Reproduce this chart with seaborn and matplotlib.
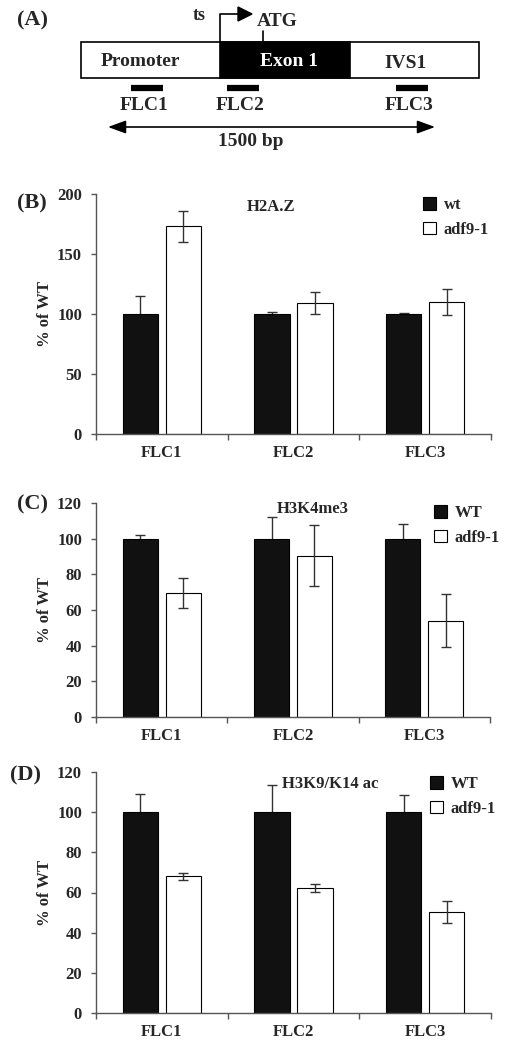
"""FLC chromatin ChIP figure: gene schematic plus three bar panels."""

import matplotlib
matplotlib.use("Agg")
import matplotlib.pyplot as plt
from matplotlib.patches import Rectangle, Polygon, Patch
import numpy as np
import pandas as pd
import seaborn as sns

REGIONS = ["FLC1", "FLC2", "FLC3"]

h2az_wt = [100, 100, 100]
h2az_wt_err = [15, 2, 1]
h2az_adf = [173, 109, 110]
h2az_adf_err = [13, 9, 10.5]

h3k4_wt = [100, 100, 100]
h3k4_wt_err = [2, 12, 8.5]
h3k4_adf = [69.5, 90.5, 54]
h3k4_adf_err = [8.5, 17, 15]

ac_wt = [100, 100, 100]
ac_wt_err = [9, 13.5, 8.5]
ac_adf = [68, 62.4, 50.3]
ac_adf_err = [1.8, 2, 5.3]

sns.set_style("ticks")
plt.rcParams["font.family"] = ["Liberation Serif", "DejaVu Serif"]
plt.rcParams["font.weight"] = "bold"

W, H = 507, 1050
fig = plt.figure(figsize=(W / 100, H / 100), dpi=100)

GRAY = "#555555"
FS = 12


def fig_rect(left, top, right, bottom):
    """Pixel box -> figure-fraction rect."""
    return [left / W, 1 - bottom / H, (right - left) / W, (bottom - top) / H]


def bar_panel(rect, wt, wt_err, adf, adf_err, labels, ymax, step, title, title_xy, leg_xy):
    ax = fig.add_axes(rect)
    df = pd.DataFrame({
        "region": REGIONS * 2,
        "value": wt + adf,
        "err": wt_err + adf_err,
        "genotype": [labels[0]] * 3 + [labels[1]] * 3,
    })
    sns.barplot(data=df, x="region", y="value", hue="genotype",
                palette={labels[0]: "#111111", labels[1]: "white"},
                edgecolor="black", linewidth=0.8, width=0.653, gap=0.185,
                errorbar=None, legend=False, ax=ax)
    for i, (cont, lab) in enumerate(zip(ax.containers, labels)):
        errs = df.loc[df["genotype"] == lab, "err"].to_numpy()
        vals = df.loc[df["genotype"] == lab, "value"].to_numpy()
        xs = [b.get_x() + b.get_width() / 2 for b in cont]
        # wt error bars sit behind the black bars, so only the upper half shows
        ax.errorbar(xs, vals, yerr=errs, fmt="none", ecolor="#333333",
                    elinewidth=1.0, capsize=3.6, capthick=1.0,
                    zorder=0.5 if i == 0 else 3)

    ax.set_xlim(-0.5, 2.5)
    ax.set_ylim(0, ymax)
    ax.set_yticks(np.arange(0, ymax + 1, step))
    ax.set_xticks(range(3))
    ax.set_xticklabels(REGIONS)
    ax.set_xticks([-0.5, 0.5, 1.5, 2.5], minor=True)
    ax.tick_params(axis="x", which="major", length=0, pad=8, labelsize=FS)
    ax.tick_params(axis="x", which="minor", length=4, width=1, color=GRAY)
    ax.tick_params(axis="y", length=3.5, width=1, color=GRAY, pad=6.5, labelsize=FS)
    ax.set_xlabel("")
    ax.set_ylabel("% of WT", fontsize=FS, fontweight="bold")
    ax.yaxis.set_label_coords(-0.11, 0.5)
    sns.despine(ax=ax)
    for s in ("left", "bottom"):
        ax.spines[s].set_color(GRAY)
        ax.spines[s].set_linewidth(1.0)

    ax.text(title_xy[0], title_xy[1], title, transform=ax.transAxes,
            ha="center", va="center", fontsize=FS, fontweight="bold")

    handles = [Patch(facecolor="#111111", edgecolor="black", linewidth=0.8),
               Patch(facecolor="white", edgecolor="black", linewidth=0.8)]
    ax.legend(handles, labels, loc="upper left",
              bbox_to_anchor=(leg_xy[0] / W, 1 - leg_xy[1] / H),
              bbox_transform=fig.transFigure, frameon=False,
              borderpad=0, borderaxespad=0, handlelength=0.8, handleheight=0.8,
              handletextpad=0.45, labelspacing=0.5,
              prop={"size": FS, "weight": "bold"})
    return ax


bar_panel(fig_rect(96, 194, 491, 434), h2az_wt, h2az_wt_err, h2az_adf, h2az_adf_err,
          ["wt", "adf9-1"], 200, 50, "H2A.Z", (0.443, 0.946), (423, 197))
bar_panel(fig_rect(96, 503, 490, 717), h3k4_wt, h3k4_wt_err, h3k4_adf, h3k4_adf_err,
          ["WT", "adf9-1"], 120, 20, "H3K4me3", (0.551, 0.972), (434, 505))
bar_panel(fig_rect(96, 772, 491, 1013), ac_wt, ac_wt_err, ac_adf, ac_adf_err,
          ["WT", "adf9-1"], 120, 20, "H3K9/K14 ac", (0.592, 0.950), (430, 776))

# panel A: gene schematic, drawn in pixel space
ov = fig.add_axes([0, 0, 1, 1], zorder=-1)
ov.set_xlim(0, W)
ov.set_ylim(H, 0)
ov.axis("off")

ov.add_patch(Rectangle((81, 42), 398, 36, facecolor="white", edgecolor="black", lw=1.2))
ov.add_patch(Rectangle((220, 42), 130, 36, facecolor="black", edgecolor="black", lw=1.2))
ov.text(140, 61, "Promoter", ha="center", va="center", fontsize=14)
ov.text(289, 61, "Exon 1", ha="center", va="center", fontsize=14, color="white")
ov.text(406, 63, "IVS1", ha="center", va="center", fontsize=14)

ov.plot([220, 220, 240], [42, 14, 14], color="black", lw=1.2)
ov.add_patch(Polygon([(238, 7), (252, 14), (238, 21)], closed=True, color="black"))
ov.text(199, 15, "ts", ha="center", va="center", fontsize=13)
ov.plot([263, 263], [31, 42], color="black", lw=1.2)
ov.text(277, 22, "ATG", ha="center", va="center", fontsize=14)

for (x0, x1), name in zip([(131, 163), (227, 259), (396, 428)], REGIONS):
    ov.plot([x0, x1], [88, 88], color="black", lw=4.5, solid_capstyle="butt")
    ov.text((x0 + x1) / 2 - 3, 106, name, ha="center", va="center", fontsize=14)

ov.annotate("", xy=(108, 127), xytext=(435, 127),
            arrowprops=dict(arrowstyle="<|-|>,head_length=0.9,head_width=0.33",
                            mutation_scale=12, color="black", lw=1.2,
                            shrinkA=0, shrinkB=0))
ov.text(251, 142, "1500 bp", ha="center", va="center", fontsize=14)

for lab, x, y in [("(A)", 17, 20), ("(B)", 17, 203), ("(C)", 17, 504), ("(D)", 10, 775)]:
    fig.text(x / W, 1 - y / H, lab, ha="left", va="center", fontsize=16, fontweight="bold")

fig.savefig("out.png", dpi=100)
